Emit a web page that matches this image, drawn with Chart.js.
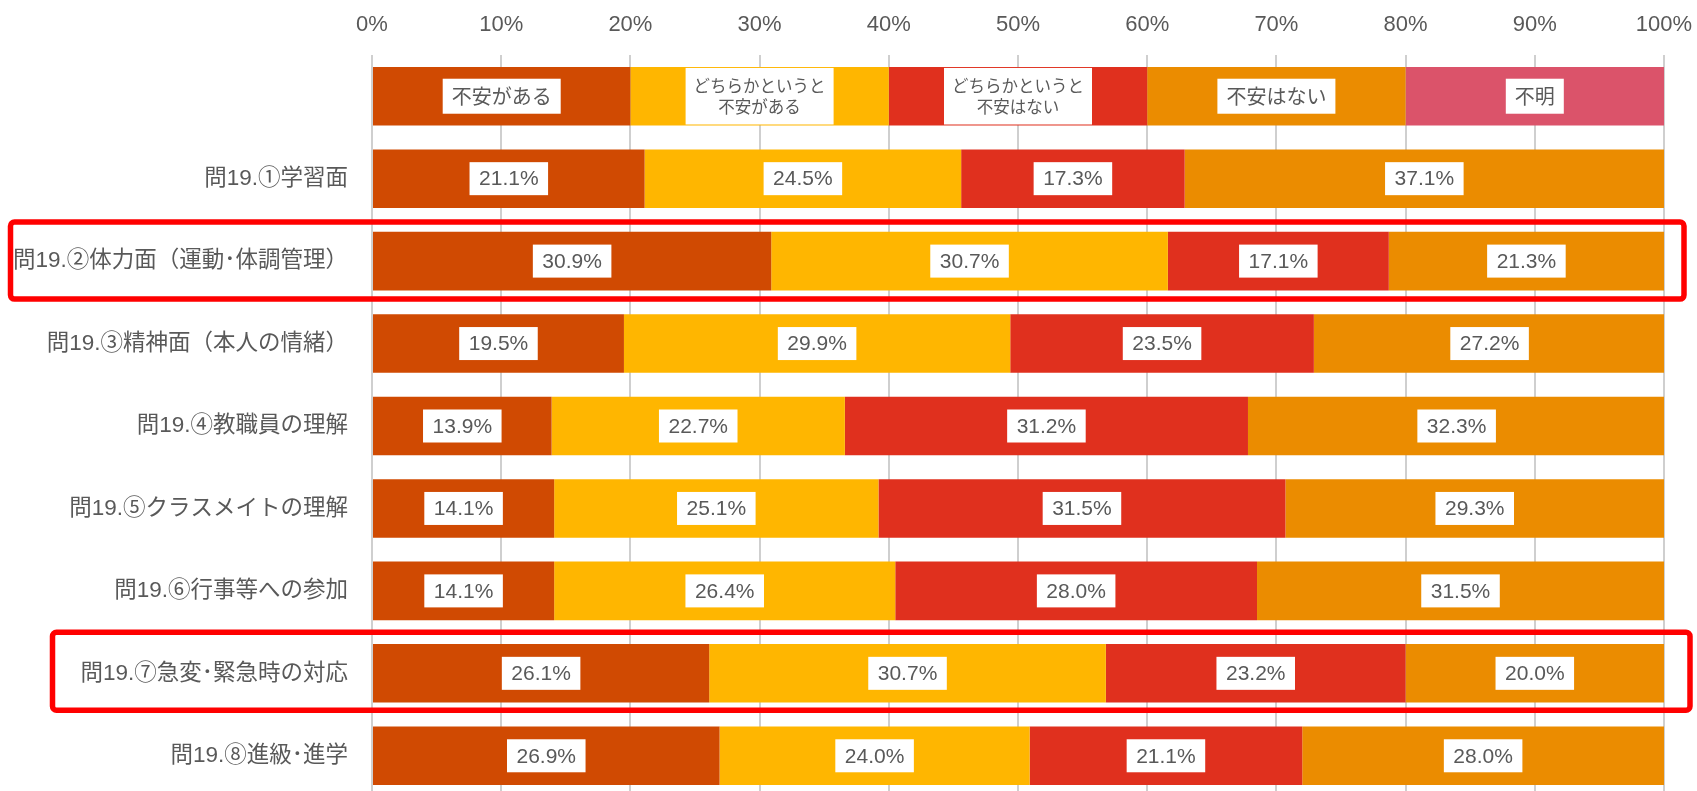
<!DOCTYPE html>
<html lang="ja">
<head>
<meta charset="utf-8">
<title>問19 不安の程度</title>
<script src="https://cdn.jsdelivr.net/npm/chart.js@4/dist/chart.umd.min.js"></script>
<style>
  html, body { margin: 0; padding: 0; background: #fff; overflow: hidden; }
  canvas { display: block; }
</style>
</head>
<body>
<canvas id="barChart" width="1697" height="797"></canvas>
<script>
// 質問項目
var categories = [
    '問19.①学習面',
    '問19.②体力面（運動･体調管理）',
    '問19.③精神面（本人の情緒）',
    '問19.④教職員の理解',
    '問19.⑤クラスメイトの理解',
    '問19.⑥行事等への参加',
    '問19.⑦急変･緊急時の対応',
    '問19.⑧進級･進学'
];

// 回答区分（凡例行に表示する名前）
var seriesNames = ['不安がある', 'どちらかというと\n不安がある', 'どちらかというと\n不安はない', '不安はない', '不明'];

// 凡例行は各区分20%ずつ
var keyRow = [20, 20, 20, 20, 20];

// 回答割合(%)
var anxious       = [21.1, 30.9, 19.5, 13.9, 14.1, 14.1, 26.1, 26.9];
var ratherAnxious = [24.5, 30.7, 29.9, 22.7, 25.1, 26.4, 30.7, 24.0];
var ratherNot     = [17.3, 17.1, 23.5, 31.2, 31.5, 28.0, 23.2, 21.1];
var notAnxious    = [37.1, 21.3, 27.2, 32.3, 29.3, 31.5, 20.0, 28.0];
var unknown       = [0, 0, 0, 0, 0, 0, 0, 0];

var xTicks = [0, 10, 20, 30, 40, 50, 60, 70, 80, 90, 100];

// 赤枠で囲む項目
var highlighted = [categories[1], categories[6]];

var colors = ['#D04A02', '#FFB600', '#E0301E', '#EB8C00', '#DB536A'];
var seriesValues = [anxious, ratherAnxious, ratherNot, notAnxious, unknown];

var labels = [''].concat(categories);
var datasets = seriesValues.map(function (vals, i) {
    return {
        label: seriesNames[i].replace('\n', ''),
        data: [keyRow[i]].concat(vals),
        backgroundColor: colors[i],
        borderWidth: 0,
        barPercentage: 0.71,
        categoryPercentage: 1.0
    };
});

var numFont = "'Liberation Sans', Arial, 'Noto Sans CJK JP', sans-serif";
var jpFont = "'Noto Sans CJK JP', 'Liberation Sans', sans-serif";

// 各セグメント中央に白い枠付きラベルを描く
var boxLabels = {
    id: 'boxLabels',
    afterDatasetsDraw: function (chart) {
        var ctx = chart.ctx;
        ctx.save();
        ctx.textAlign = 'center';
        ctx.textBaseline = 'middle';
        chart.data.datasets.forEach(function (ds, di) {
            var meta = chart.getDatasetMeta(di);
            meta.data.forEach(function (bar, idx) {
                var v = ds.data[idx];
                if (!v) return;
                var cx = (bar.base + bar.x) / 2;
                var cy = bar.y;
                if (idx === 0) {
                    var lines = seriesNames[di].split('\n');
                    if (lines.length > 1) {
                        ctx.font = '16.5px ' + jpFont;
                        var w = Math.max.apply(null, lines.map(function (l) { return ctx.measureText(l).width; }));
                        ctx.fillStyle = '#fff';
                        ctx.fillRect(cx - w / 2 - 8, bar.y - bar.height / 2 + 1, w + 16, bar.height - 2);
                        ctx.fillStyle = '#595959';
                        ctx.fillText(lines[0], cx, cy - 10.5);
                        ctx.fillText(lines[1], cx, cy + 10.5);
                    } else {
                        ctx.font = '20px ' + jpFont;
                        var w1 = ctx.measureText(lines[0]).width;
                        ctx.fillStyle = '#fff';
                        ctx.fillRect(cx - w1 / 2 - 9, cy - 17.5, w1 + 18, 35);
                        ctx.fillStyle = '#595959';
                        ctx.fillText(lines[0], cx, cy);
                    }
                } else {
                    var txt = v.toFixed(1) + '%';
                    ctx.font = '21px ' + numFont;
                    var w2 = ctx.measureText(txt).width;
                    ctx.fillStyle = '#fff';
                    ctx.fillRect(cx - w2 / 2 - 9.5, cy - 16.5, w2 + 19, 33);
                    ctx.fillStyle = '#595959';
                    ctx.fillText(txt, cx, cy + 1);
                }
            });
        });
        ctx.restore();
    }
};

// 注目項目の赤枠
var highlightBoxes = {
    id: 'highlightBoxes',
    afterDraw: function (chart) {
        var ctx = chart.ctx;
        var y = chart.scales.y;
        var frames = [
            { left: 10.5, right: 1684, up: 39, down: 38 },
            { left: 52.5, right: 1690, up: 41, down: 37 }
        ];
        ctx.save();
        ctx.strokeStyle = '#FF0000';
        ctx.lineWidth = 5.5;
        highlighted.forEach(function (name, k) {
            var cy = y.getPixelForValue(labels.indexOf(name));
            var f = frames[k];
            ctx.beginPath();
            ctx.roundRect(f.left, cy - f.up, f.right - f.left, f.up + f.down, 4);
            ctx.stroke();
        });
        ctx.restore();
    }
};

var ctx1 = document.getElementById('barChart').getContext('2d');
var barChart = new Chart(ctx1, {
    type: 'bar',
    data: {
        labels: labels,
        datasets: datasets
    },
    options: {
        indexAxis: 'y',
        responsive: false,
        animation: false,
        events: [],
        layout: { padding: { top: 0, right: 33, bottom: 0, left: 0 } },
        plugins: {
            legend: { display: false },
            tooltip: { enabled: false }
        },
        scales: {
            x: {
                position: 'top',
                stacked: true,
                min: 0,
                max: 100,
                afterBuildTicks: function (scale) {
                    scale.ticks = xTicks.map(function (v) { return { value: v }; });
                },
                afterFit: function (scale) {
                    scale.height = 55;
                    scale.paddingLeft = 0;
                    scale.paddingRight = 0;
                },
                grid: { color: '#cfcfcf', lineWidth: 2, drawTicks: false },
                border: { display: false },
                ticks: {
                    padding: 17,
                    color: '#595959',
                    font: { family: numFont, size: 22 },
                    callback: function (v) { return v + '%'; }
                }
            },
            y: {
                stacked: true,
                afterFit: function (scale) {
                    scale.width = 372;
                    scale.paddingTop = 0;
                    scale.paddingBottom = 0;
                },
                grid: { display: false },
                border: { display: false },
                ticks: {
                    padding: 16,
                    color: '#595959',
                    font: { family: numFont, size: 22.5 }
                }
            }
        }
    },
    plugins: [boxLabels, highlightBoxes]
});
</script>
</body>
</html>
